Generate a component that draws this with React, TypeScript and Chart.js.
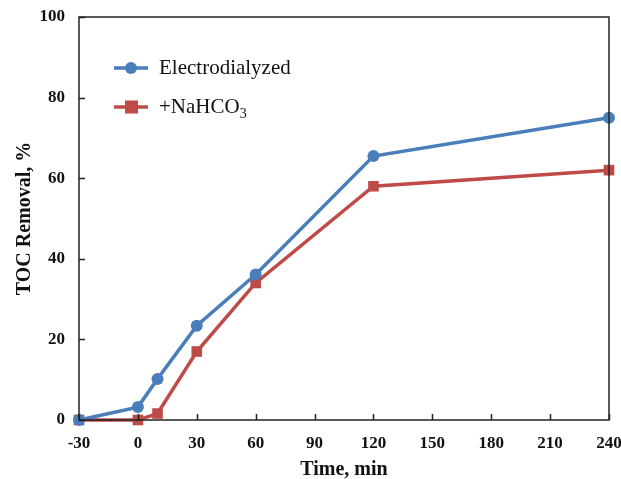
import React, { useEffect, useRef } from "react";
import { Chart, registerables } from "chart.js";

Chart.register(...registerables);

const timeMin = [-30, 0, 10, 30, 60, 120, 240];
const electrodialyzed = [0, 3.2, 10.2, 23.4, 36.1, 65.5, 75.0];
const nahco3 = [0, 0, 1.6, 17.0, 34.0, 58.0, 62.0];
const xTicks = [-30, 0, 30, 60, 90, 120, 150, 180, 210, 240];
const yTicks = [0, 20, 40, 60, 80, 100];

const BLUE = "#4A7EBB";
const RED = "#BE4B48";
const SERIF = "'Liberation Serif', 'Times New Roman', serif";

const framePlugin = {
  id: "frameTicks",
  afterDraw(chart: any) {
    const { ctx, chartArea, scales } = chart;
    const { left, right, top, bottom } = chartArea;
    ctx.save();
    ctx.strokeStyle = "#222";
    ctx.lineWidth = 1.5;
    ctx.strokeRect(left, top, right - left, bottom - top);
    ctx.beginPath();
    xTicks.forEach((v) => {
      const px = Math.round(scales.x.getPixelForValue(v)) + 0.5;
      ctx.moveTo(px, bottom);
      ctx.lineTo(px, bottom - 6);
    });
    yTicks.forEach((v) => {
      const py = Math.round(scales.y.getPixelForValue(v)) + 0.5;
      ctx.moveTo(left, py);
      ctx.lineTo(left + 6, py);
    });
    ctx.stroke();
    ctx.restore();
  },
  afterDatasetsDraw(chart: any) {
    const { ctx } = chart;
    ctx.save();
    const items = [
      { label: "Electrodialyzed", sub: "", color: BLUE, style: "circle", y: 68 },
      { label: "+NaHCO", sub: "3", color: RED, style: "rect", y: 107 },
    ];
    items.forEach((it) => {
      ctx.strokeStyle = it.color;
      ctx.fillStyle = it.color;
      ctx.lineWidth = 3.5;
      ctx.beginPath();
      ctx.moveTo(114, it.y);
      ctx.lineTo(148, it.y);
      ctx.stroke();
      if (it.style === "circle") {
        ctx.beginPath();
        ctx.arc(131, it.y, 6, 0, Math.PI * 2);
        ctx.fill();
      } else {
        ctx.fillRect(125, it.y - 6.5, 13, 13);
      }
      ctx.fillStyle = "#111";
      ctx.font = `21px ${SERIF}`;
      ctx.textBaseline = "middle";
      ctx.textAlign = "left";
      ctx.fillText(it.label, 159, it.y);
      if (it.sub) {
        const w = ctx.measureText(it.label).width;
        ctx.font = `14px ${SERIF}`;
        ctx.fillText(it.sub, 159 + w, it.y + 7);
      }
    });
    ctx.restore();
  },
};

export default function App() {
  const ref = useRef<HTMLCanvasElement>(null);
  useEffect(() => {
    if (!ref.current) return;
    Chart.defaults.font.family = SERIF;
    const chart = new Chart(ref.current, {
      type: "line",
      data: {
        datasets: [
          {
            label: "Electrodialyzed",
            data: timeMin.map((t, i) => ({ x: t, y: electrodialyzed[i] })),
            borderColor: BLUE,
            backgroundColor: BLUE,
            borderWidth: 3.5,
            pointStyle: "circle",
            pointRadius: 6,
            pointBorderWidth: 0,
            tension: 0,
            clip: false,
          },
          {
            label: "+NaHCO3",
            data: timeMin.map((t, i) => ({ x: t, y: nahco3[i] })),
            borderColor: RED,
            backgroundColor: RED,
            borderWidth: 3.5,
            pointStyle: "rect",
            pointRadius: 7.5,
            pointBorderWidth: 0,
            tension: 0,
            clip: false,
          },
        ],
      },
      options: {
        responsive: false,
        animation: false,
        layout: { padding: { left: 0, right: 12, top: 17, bottom: 0 } },
        plugins: { legend: { display: false }, tooltip: { enabled: false } },
        scales: {
          x: {
            type: "linear",
            min: -30,
            max: 240,
            afterBuildTicks: (scale: any) => {
              scale.ticks = xTicks.map((v) => ({ value: v }));
            },
            afterFit: (scale: any) => {
              scale.height = 59;
              scale.paddingLeft = 0;
              scale.paddingRight = 0;
            },
            grid: { display: false, drawTicks: false },
            border: { display: false },
            ticks: {
              padding: 13,
              color: "#111",
              font: { size: 17, weight: "bold", family: SERIF },
              maxRotation: 0,
              autoSkip: false,
            },
            title: {
              display: true,
              text: "Time, min",
              color: "#111",
              font: { size: 20, weight: "bold", family: SERIF },
              padding: { top: 0, bottom: -3 },
            },
          },
          y: {
            type: "linear",
            min: 0,
            max: 100,
            afterBuildTicks: (scale: any) => {
              scale.ticks = yTicks.map((v) => ({ value: v }));
            },
            afterFit: (scale: any) => {
              scale.width = 79;
              scale.paddingTop = 0;
              scale.paddingBottom = 0;
            },
            grid: { display: false, drawTicks: false },
            border: { display: false },
            ticks: {
              padding: 14,
              color: "#111",
              font: { size: 17, weight: "bold", family: SERIF },
            },
            title: {
              display: true,
              text: "TOC Removal, %",
              color: "#111",
              font: { size: 20, weight: "bold", family: SERIF },
              padding: { top: 13, bottom: 0 },
            },
          },
        },
      },
      plugins: [framePlugin],
    } as any);
    return () => chart.destroy();
  }, []);
  return (
    <div style={{ position: "absolute", left: 0, top: 0, width: 621, height: 479, background: "#fff" }}>
      <canvas ref={ref} width={621} height={479} />
    </div>
  );
}
